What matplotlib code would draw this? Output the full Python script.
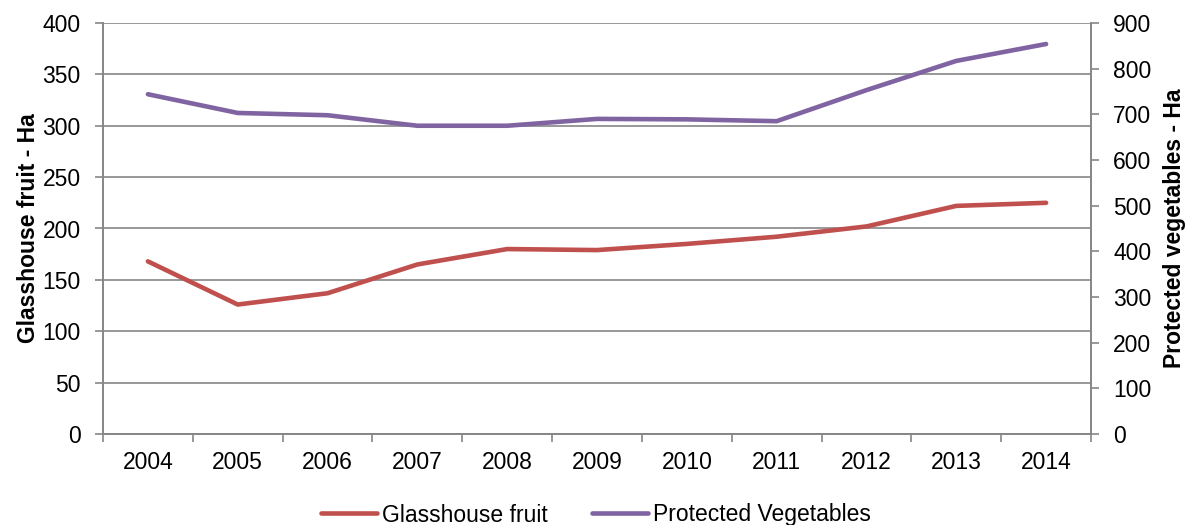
import matplotlib
matplotlib.use('Agg')
import matplotlib.pyplot as plt
import numpy as np

plt.rcParams['font.family'] = ['Liberation Sans', 'DejaVu Sans']

years = ['2004', '2005', '2006', '2007', '2008', '2009', '2010', '2011', '2012', '2013', '2014']
glasshouse = [168, 126, 137, 165, 180, 179, 185, 192, 202, 222, 225]
protected = [744, 703, 698, 675, 675, 690, 689, 685, 753, 817, 854]

red = '#C0504D'
purple = '#8064A2'
grid_col = '#868686'
fs = 16.5

fig = plt.figure(figsize=(11.92, 5.25), dpi=100)
ax = fig.add_axes([103 / 1192, 1 - 434 / 525, (1091 - 103) / 1192, (434 - 23) / 525])
ax2 = ax.twinx()

x = np.arange(len(years))
l1, = ax.plot(x, glasshouse, color=red, lw=3.3, solid_capstyle='round', label='Glasshouse fruit')
l2, = ax2.plot(x, protected, color=purple, lw=3.3, solid_capstyle='round', label='Protected Vegetables')

ax.set_xlim(-0.5, len(years) - 0.5)
ax.set_ylim(0, 400)
ax.set_yticks(range(0, 401, 50))
ax2.set_ylim(0, 900)
ax2.set_yticks(range(0, 901, 100))

ax.set_xticks(np.arange(-0.5, len(years), 1))
ax.set_xticklabels([])
ax.set_xticks(x, minor=True)
ax.set_xticklabels(years, minor=True)
ax.tick_params(axis='x', which='minor', length=0, pad=12, labelsize=fs)
ax.tick_params(axis='x', which='major', length=6, color=grid_col, width=1.2)
ax.tick_params(axis='y', length=6, color=grid_col, width=1.2, labelsize=fs, pad=10)
ax2.tick_params(axis='y', length=6, color=grid_col, width=1.2, labelsize=fs, pad=10)

ax.yaxis.grid(True, color=grid_col, lw=1.2)
ax.set_axisbelow(True)
for a in (ax, ax2):
    a.spines['top'].set_visible(False)
    for s in ('left', 'bottom', 'right'):
        a.spines[s].set_color(grid_col)
        a.spines[s].set_linewidth(1.2)

ax.set_ylabel('Glasshouse fruit - Ha', fontsize=16.5, fontweight='bold')
ax2.set_ylabel('Protected vegetables - Ha', fontsize=16.5, fontweight='bold')
ax.yaxis.set_label_coords(-(103 - 40) / 988, 0.5)
ax2.yaxis.set_label_coords(1 + (1163 - 1091) / 988, 0.5)

fig.legend(handles=[l1, l2], loc='center', bbox_to_anchor=(0.5, 10 / 525), ncol=2,
           frameon=False, fontsize=fs, handlelength=2.45, handletextpad=0.22,
           columnspacing=1.9, borderpad=0)

fig.savefig('out.png', dpi=100)
